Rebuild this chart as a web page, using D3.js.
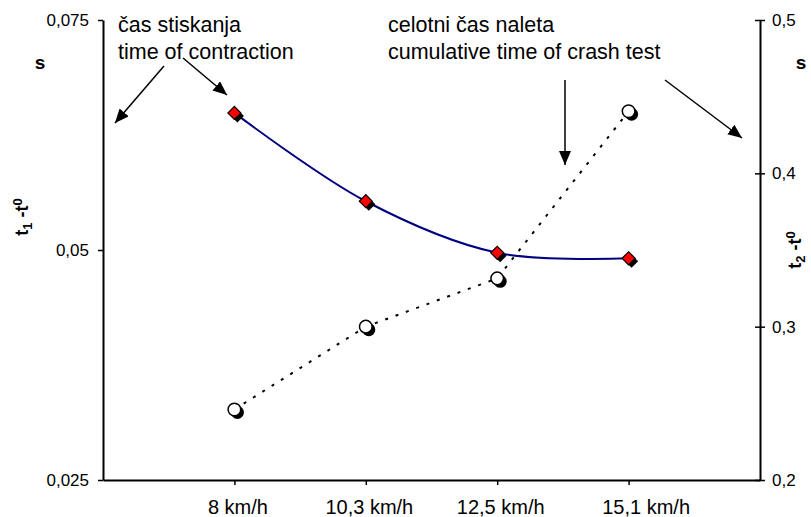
<!DOCTYPE html>
<html lang="sl">
<head>
    <meta charset="UTF-8">
    <title>Čas stiskanja in čas naleta</title>
    <script src="https://d3js.org/d3.v7.min.js"></script>
    <style>
        body {
            margin: 0;
            background: #fff;
            font-family: Arial, "Liberation Sans", sans-serif;
        }
        svg text {
            fill: #000;
        }
    </style>
</head>
<body>
    <div class="chart"></div>

    <script>
        const categories = ['8 km/h', '10,3 km/h', '12,5 km/h', '15,1 km/h'];
        // t1 - t0, left axis (s)
        const contractionTime = [0.0649, 0.0553, 0.0497, 0.0491];
        // t2 - t0, right axis (s)
        const crashTime = [0.246, 0.300, 0.3315, 0.4405];
        const leftTicks = [0.025, 0.05, 0.075];
        const rightTicks = [0.2, 0.3, 0.4, 0.5];

        const svgWidth = 811;
        const svgHeight = 517;
        const plot = { left: 103, right: 760, top: 20, bottom: 480 };

        const svg = d3.select('.chart')
            .append('svg')
            .attr('width', svgWidth)
            .attr('height', svgHeight);

        const xScale = d3.scaleLinear()
            .domain([0, categories.length + 1])
            .range([plot.left, plot.right]);

        const yLeft = d3.scaleLinear()
            .domain([0.025, 0.075])
            .range([plot.bottom, plot.top]);

        const yRight = d3.scaleLinear()
            .domain([0.2, 0.5])
            .range([plot.bottom, plot.top]);

        const comma = s => s.replace('.', ',');

        // axes
        const xAxis = svg.append('g')
            .attr('transform', `translate(0,${plot.bottom})`)
            .call(d3.axisBottom(xScale)
                .tickValues(categories.map((c, i) => i + 1))
                .tickFormat(i => categories[i - 1])
                .tickSizeInner(5)
                .tickSizeOuter(0));
        xAxis.selectAll('text')
            .attr('y', 34)
            .attr('dy', 0)
            .attr('dx', (d, i) => i === 3 ? 17 : 3)
            .style('font-size', '20px');

        const leftAxis = svg.append('g')
            .attr('transform', `translate(${plot.left},0)`)
            .call(d3.axisLeft(yLeft)
                .tickValues(leftTicks)
                .tickFormat(d => comma(d3.format('.3~f')(d)))
                .tickSizeInner(5)
                .tickSizeOuter(0));
        leftAxis.selectAll('text')
            .attr('x', -14)
            .style('font-size', '17px');

        const rightAxis = svg.append('g')
            .attr('transform', `translate(${plot.right},0)`)
            .call(d3.axisRight(yRight)
                .tickValues(rightTicks)
                .tickFormat(d => comma(d.toFixed(1)))
                .tickSizeInner(5)
                .tickSizeOuter(0));
        rightAxis.selectAll('.tick line').attr('x1', -5);
        rightAxis.selectAll('text')
            .attr('x', 12)
            .style('font-size', '17px');

        svg.selectAll('.domain').attr('stroke', '#000').attr('stroke-width', 2);
        svg.selectAll('.tick line').attr('stroke', '#000').attr('stroke-width', 1.5);
        svg.selectAll('.tick text').style('font-family', 'Arial, "Liberation Sans", sans-serif');

        // axis titles
        svg.append('text')
            .attr('x', 40).attr('y', 69)
            .attr('text-anchor', 'middle')
            .style('font-size', '19px').style('font-weight', 'bold')
            .text('s');
        svg.append('text')
            .attr('x', 801).attr('y', 69)
            .attr('text-anchor', 'middle')
            .style('font-size', '19px').style('font-weight', 'bold')
            .text('s');

        function axisTitle(x, y, sub) {
            const t = svg.append('text')
                .attr('transform', `translate(${x},${y}) rotate(-90)`)
                .attr('text-anchor', 'middle')
                .style('font-size', '18px').style('font-weight', 'bold');
            t.append('tspan').text('t');
            t.append('tspan').attr('dy', 4).style('font-size', '13px').text(sub);
            t.append('tspan').attr('dy', -4).text(' -t');
            t.append('tspan').attr('dy', -6).style('font-size', '13px').text('0');
        }
        axisTitle(28, 217, '1');
        axisTitle(801, 250, '2');

        // series lines
        const idx = categories.map((c, i) => i);

        svg.append('path')
            .datum(idx)
            .attr('fill', 'none')
            .attr('stroke', '#000')
            .attr('stroke-width', 2)
            .attr('stroke-dasharray', '3,8')
            .attr('d', d3.line()
                .x(i => xScale(i + 1))
                .y(i => yRight(crashTime[i])));

        svg.append('path')
            .datum(idx)
            .attr('fill', 'none')
            .attr('stroke', '#000080')
            .attr('stroke-width', 2)
            .attr('d', d3.line()
                .curve(d3.curveCatmullRom.alpha(0.5))
                .x(i => xScale(i + 1))
                .y(i => yLeft(contractionTime[i])));

        // markers
        const diamond = d3.symbol().type(d3.symbolSquare).size(85);

        const diamonds = svg.selectAll('.diamond')
            .data(idx)
            .enter()
            .append('g')
            .attr('class', 'diamond')
            .attr('transform', i => `translate(${xScale(i + 1)},${yLeft(contractionTime[i])})`);
        diamonds.append('path')
            .attr('d', diamond)
            .attr('transform', 'translate(3,3) rotate(45)')
            .attr('fill', '#000');
        diamonds.append('path')
            .attr('d', diamond)
            .attr('transform', 'rotate(45)')
            .attr('fill', '#ff0000')
            .attr('stroke', '#000')
            .attr('stroke-width', 1.2);

        const circles = svg.selectAll('.circle')
            .data(idx)
            .enter()
            .append('g')
            .attr('class', 'circle')
            .attr('transform', i => `translate(${xScale(i + 1)},${yRight(crashTime[i])})`);
        circles.append('circle')
            .attr('cx', 3).attr('cy', 3).attr('r', 6.5)
            .attr('fill', '#000');
        circles.append('circle')
            .attr('r', 6.3)
            .attr('fill', '#fff')
            .attr('stroke', '#000')
            .attr('stroke-width', 1.5);

        // annotations
        const notes = [
            { x: 118, lines: ['čas stiskanja', 'time of contraction'] },
            { x: 388, lines: ['celotni čas naleta', 'cumulative time of crash test'] }
        ];
        notes.forEach(n => {
            n.lines.forEach((line, k) => {
                svg.append('text')
                    .attr('x', n.x)
                    .attr('y', 32 + k * 27)
                    .style('font-size', '21.5px')
                    .text(line);
            });
        });

        svg.append('defs').append('marker')
            .attr('id', 'head')
            .attr('markerUnits', 'userSpaceOnUse')
            .attr('markerWidth', 15)
            .attr('markerHeight', 12)
            .attr('refX', 14)
            .attr('refY', 6)
            .attr('orient', 'auto')
            .append('path')
            .attr('d', 'M0,0L14,6L0,12Z')
            .attr('fill', '#000');

        const arrows = [
            [164, 66, 115, 123],
            [183, 58, 227, 95],
            [565, 80, 565, 165],
            [665, 80, 742, 138]
        ];
        svg.selectAll('.arrow')
            .data(arrows)
            .enter()
            .append('line')
            .attr('class', 'arrow')
            .attr('x1', d => d[0]).attr('y1', d => d[1])
            .attr('x2', d => d[2]).attr('y2', d => d[3])
            .attr('stroke', '#000')
            .attr('stroke-width', 1.5)
            .attr('marker-end', 'url(#head)');
    </script>
</body>
</html>
